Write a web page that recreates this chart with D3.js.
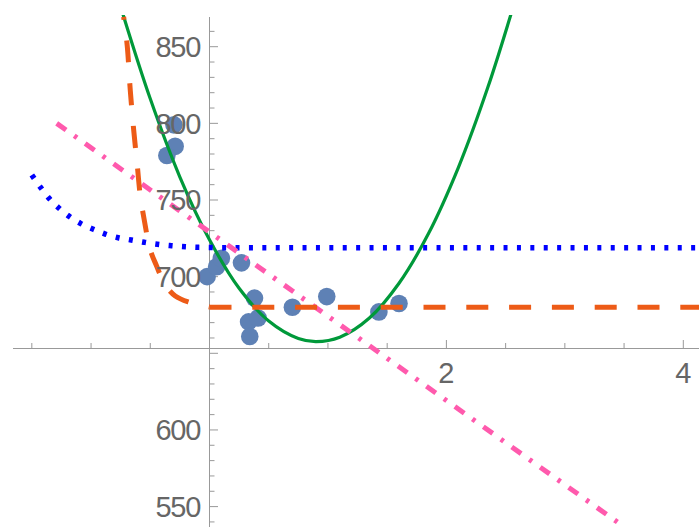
<!DOCTYPE html>
<html>
<head>
<meta charset="utf-8">
<script src="https://cdn.jsdelivr.net/npm/d3@7"></script>
<style>
  body { margin: 0; background: #fff; }
  svg { display: block; }
</style>
</head>
<body>
<svg id="chart" width="699" height="527"></svg>
<script>
// measured points
const dataX = [-0.30, -0.29, -0.36, -0.02, 0.06, 0.10, 0.27, 0.38, 0.33, 0.41, 0.34, 0.70, 0.99, 1.43, 1.60];
const dataY = [799, 785, 779, 700, 706.5, 712, 709, 686, 670.5, 673, 661, 680, 687, 677, 682.5];

// fitted curves
const greenX = [-0.73, -0.5, -0.25, 0, 0.25, 0.5, 0.75, 0.9, 1.1, 1.35, 1.6, 1.85, 2.1, 2.35, 2.56];
const greenY = [871, 816, 765, 724, 692.4, 671, 659.6, 657.6, 660.5, 673, 695.7, 728.3, 771, 823.5, 875];

const blueX = [-1.5, -1.42, -1.35, -1.27, -1.18, -1.09, -0.98, -0.88, -0.77, -0.66, -0.55, -0.44, -0.32, -0.2, -0.09, 0.2, 4.2];
const blueY = [766.3, 757.6, 750.7, 744.6, 739.1, 734.8, 730.9, 727.8, 725.4, 723.9, 722.4, 721.1, 720.2, 719.5, 719.1, 718.9, 718.8];

const orangeX = [-0.725, -0.695, -0.669, -0.64, -0.61, -0.585, -0.551, -0.5, -0.45, -0.374, -0.289, -0.18, 0];
const orangeY = [869.5, 851, 821.7, 795.6, 772.8, 753.3, 737, 717.4, 707.6, 694.6, 687.4, 683.5, 680.2];
const flatX = [0, 4.2];
const flatY = [680, 680];

const pinkX = [-1.29, 3.46];
const pinkY = [800, 539];

const xMajor = [2, 4];
const xMinor = [-1.5, -1, -0.5, 0.5, 1, 1.5, 2.5, 3, 3.5];
const yMajor = [550, 600, 650, 700, 750, 800, 850];
const yLabels = [550, 600, 700, 750, 800, 850];
const yMinor = [540, 560, 570, 580, 590, 610, 620, 630, 640, 660, 670, 680, 690,
  710, 720, 730, 740, 760, 770, 780, 790, 810, 820, 830, 840, 860];

const originY = 653.78;
const axisColor = "#999";
const labelFont = "'Liberation Sans', Arial, sans-serif";

const svg = d3.select("#chart");
const x = d3.scaleLinear().domain([0, 4]).range([209.5, 683.3]);
const y = d3.scaleLinear().domain([650, 850]).range([353.3, 46.7]);

svg.append("defs").append("clipPath").attr("id", "plot")
  .append("rect").attr("x", 13).attr("y", 15).attr("width", 686).attr("height", 512);

// axes
const ax = svg.append("g").attr("stroke", axisColor).attr("stroke-width", 1);
const ay0 = Math.round(y(originY)) + 0.5;
const ax0 = x(0);
ax.append("line").attr("x1", 13).attr("x2", 699).attr("y1", ay0).attr("y2", ay0);
ax.append("line").attr("x1", ax0).attr("x2", ax0).attr("y1", 17).attr("y2", 527);

ax.selectAll("line.xmaj").data(xMajor).enter().append("line")
  .attr("x1", d => x(d)).attr("x2", d => x(d)).attr("y1", ay0).attr("y2", ay0 - 8.5);
ax.selectAll("line.xmin").data(xMinor).enter().append("line")
  .attr("x1", d => x(d)).attr("x2", d => x(d)).attr("y1", ay0).attr("y2", ay0 - 5.5);
ax.selectAll("line.ymaj").data(yMajor).enter().append("line")
  .attr("x1", ax0).attr("x2", ax0 + 8.5).attr("y1", d => y(d)).attr("y2", d => y(d));
ax.selectAll("line.ymin").data(yMinor).enter().append("line")
  .attr("x1", ax0).attr("x2", ax0 + 5).attr("y1", d => y(d)).attr("y2", d => y(d));

const plot = svg.append("g").attr("clip-path", "url(#plot)");

// points
plot.selectAll("circle").data(dataX).enter().append("circle")
  .attr("cx", d => x(d))
  .attr("cy", (d, i) => y(dataY[i]))
  .attr("r", 8.8)
  .attr("fill", "#5E81B5");

function drawCurve(xs, ys, color, width, dash, curve, offset) {
  const line = d3.line().x(d => x(d[0])).y(d => y(d[1])).curve(curve);
  plot.append("path")
    .datum(xs.map((v, i) => [v, ys[i]]))
    .attr("d", line)
    .attr("fill", "none")
    .attr("stroke", color)
    .attr("stroke-width", width)
    .attr("stroke-dasharray", dash)
    .attr("stroke-dashoffset", offset || 0);
}

drawCurve(greenX, greenY, "#00993A", 3.2, null, d3.curveCatmullRom);
drawCurve(blueX, blueY, "#0000FF", 5.5, "4,9.4", d3.curveMonotoneX);
drawCurve(pinkX, pinkY, "#FF5AAD", 5, "11.5,10,3.4,10", d3.curveLinear);
drawCurve(orangeX, orangeY, "#ED5B17", 5, "22,20.8", d3.curveCatmullRom, 19);
drawCurve(flatX, flatY, "#ED5B17", 5, "22,20.8", d3.curveLinear);

// tick labels
svg.append("g").selectAll("text").data(yLabels).enter().append("text")
  .attr("x", 200).attr("y", d => y(d)).attr("dy", "0.36em")
  .attr("text-anchor", "end")
  .attr("font-family", labelFont).attr("font-size", 29)
  .attr("letter-spacing", "-1.3px")
  .attr("fill", "#666")
  .text(d => d);

svg.append("g").selectAll("text").data(xMajor).enter().append("text")
  .attr("x", d => x(d)).attr("y", 383)
  .attr("text-anchor", "middle")
  .attr("font-family", labelFont).attr("font-size", 29)
  .attr("fill", "#666")
  .text(d => d);
</script>
</body>
</html>
